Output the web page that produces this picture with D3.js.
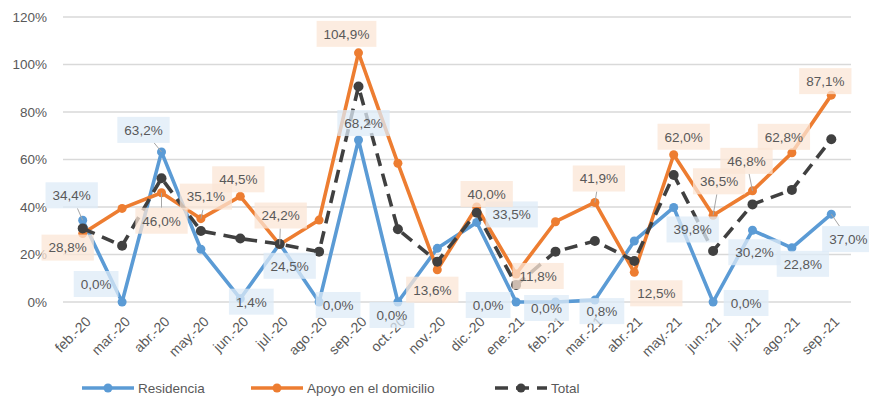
<!DOCTYPE html>
<html>
<head>
<meta charset="utf-8">
<script src="https://cdn.jsdelivr.net/npm/d3@7"></script>
<style>
  body { margin: 0; background: #fff; }
  text { font-family: "Liberation Sans", Arial, sans-serif; fill: #595959; }
</style>
</head>
<body>
<div id="chart"></div>
<script>
var width = 869,
  height = 397;

// data
var months = ['feb.-20', 'mar.-20', 'abr.-20', 'may.-20', 'jun.-20', 'jul.-20', 'ago.-20', 'sep.-20',
  'oct.-20', 'nov.-20', 'dic.-20', 'ene.-21', 'feb.-21', 'mar.-21', 'abr.-21', 'may.-21',
  'jun.-21', 'jul.-21', 'ago.-21', 'sep.-21'];
var residencia = [34.4, 0.0, 63.2, 22.2, 1.4, 24.5, 0.0, 68.2, 0.0, 22.6, 33.5, 0.0, 0.0, 0.8, 25.7, 39.8, 0.0, 30.2, 22.8, 37.0];
var apoyo = [28.8, 39.4, 46.0, 35.1, 44.5, 24.2, 34.5, 104.9, 58.4, 13.6, 40.0, 11.8, 33.8, 41.9, 12.5, 62.0, 36.5, 46.8, 62.8, 87.1];
var total = [31.0, 23.7, 52.1, 29.9, 26.7, 24.4, 21.2, 90.7, 30.6, 17.0, 37.6, 7.2, 21.2, 25.7, 17.3, 53.5, 21.5, 41.1, 47.2, 68.5];
var yTicks = [0, 20, 40, 60, 80, 100, 120];
var seriesNames = ['Residencia', 'Apoyo en el domicilio', 'Total'];

// label placement: offset from the point [dx, dy, callout?], null = no label
var resLabels = [[-11, -25, 1], [-26, -18], [-18, -22, 1], null, [11, 3], [10, 22], [19, 3], [5, -17],
  [-6, 13], null, [35, -8], [-28, 3], [-9, 6], [7, 11], null, [19, 22], [33, 1], [2, 22], [11, 16], [17, 25, 1]];
var apoLabels = [[-15, 14], null, [0, 28, 1], [5, -22, 1], [-2, -17], [1, -29, 1], null, [-12, -19],
  null, [-5, 20], [10, -13], [22, 2], null, [4, -24, 1], [22, 21], [10, -18], [6, -34, 1], [-6, -30, 1], [-8, -16], [-6, -14]];

var svg = d3.select('#chart').append('svg')
  .attr('width', width)
  .attr('height', height);

var x = d3.scalePoint()
  .domain(months)
  .range([63, 851])
  .padding(0.5);

var y = d3.scaleLinear()
  .domain([0, 120])
  .range([302, 17]);

// gridlines
svg.append('g')
  .selectAll('line')
  .data(yTicks)
  .enter().append('line')
  .attr('x1', 63)
  .attr('x2', 851)
  .attr('y1', function(d) { return y(d); })
  .attr('y2', function(d) { return y(d); })
  .attr('stroke', '#d9d9d9')
  .attr('stroke-width', 1.3);

var yAxis = svg.append('g')
  .attr('transform', 'translate(50,0)')
  .call(d3.axisLeft(y).tickValues(yTicks).tickSize(0).tickPadding(3).tickFormat(function(d) { return d + '%'; }));
yAxis.select('.domain').remove();
yAxis.selectAll('text').style('font-size', '13.5px').attr('fill', '#595959');

var xAxis = svg.append('g')
  .attr('transform', 'translate(0,302)')
  .call(d3.axisBottom(x).tickSize(0));
xAxis.select('.domain').remove();
xAxis.selectAll('text')
  .style('font-size', '14px')
  .attr('fill', '#595959')
  .attr('text-anchor', 'end')
  .attr('transform', 'translate(5,17) rotate(-45)')
  .attr('dy', '0.35em')
  .attr('y', 0);

var line = d3.line()
  .x(function(d, i) { return x(months[i]); })
  .y(function(d) { return y(d); });

function drawSeries(data, color, dash, r) {
  svg.append('path')
    .datum(data)
    .attr('fill', 'none')
    .attr('stroke', color)
    .attr('stroke-width', 3.6)
    .attr('stroke-linejoin', 'round')
    .attr('stroke-dasharray', dash)
    .attr('d', line);
  svg.append('g')
    .selectAll('circle')
    .data(data)
    .enter().append('circle')
    .attr('cx', function(d, i) { return x(months[i]); })
    .attr('cy', function(d) { return y(d); })
    .attr('r', r)
    .attr('fill', color);
}

drawSeries(residencia, '#5b9bd5', null, 4.5);
drawSeries(apoyo, '#ed7d31', null, 4.5);
drawSeries(total, '#404040', '13,8', 5);

function fmt(v) {
  return v.toFixed(1).replace('.', ',') + '%';
}

function drawLabels(data, place, bg) {
  var g = svg.append('g');
  data.forEach(function(v, i) {
    var p = place[i];
    if (!p) return;
    var px = x(months[i]), py = y(v);
    var cx = px + p[0], cy = py + p[1];
    var t = g.append('text')
      .attr('x', cx)
      .attr('y', cy)
      .attr('dy', '0.36em')
      .attr('text-anchor', 'middle')
      .style('font-size', '13.5px')
      .attr('fill', '#404040')
      .text(fmt(v));
    var w = t.node().getComputedTextLength() + 14,
      h = 26;
    if (p[2]) {
      // callout from box edge to the point
      var dx = px - cx, dy = py - cy;
      var s = Math.min(Math.abs((w / 2) / (dx || 1e-6)), Math.abs((h / 2) / (dy || 1e-6)));
      g.insert('line', 'text')
        .attr('x1', cx + dx * Math.min(s, 1))
        .attr('y1', cy + dy * Math.min(s, 1))
        .attr('x2', px)
        .attr('y2', py)
        .attr('stroke', '#a6a6a6')
        .attr('stroke-width', 1);
    }
    g.insert('rect', 'text')
      .attr('x', cx - w / 2)
      .attr('y', cy - h / 2)
      .attr('width', w)
      .attr('height', h)
      .attr('fill', bg)
      .attr('fill-opacity', 0.75);
  });
}

drawLabels(residencia, resLabels, '#deebf7');
drawLabels(apoyo, apoLabels, '#fbe5d6');

// legend
var legend = svg.append('g').attr('transform', 'translate(0,388)');
var legendX = [82, 251, 495];
var legendColors = ['#5b9bd5', '#ed7d31', '#404040'];
seriesNames.forEach(function(name, i) {
  var lx = legendX[i];
  legend.append('line')
    .attr('x1', lx).attr('x2', lx + 52)
    .attr('stroke', legendColors[i])
    .attr('stroke-width', 3.6)
    .attr('stroke-dasharray', i == 2 ? '13,8' : null);
  legend.append('circle')
    .attr('cx', lx + 26)
    .attr('r', 4.5)
    .attr('fill', legendColors[i]);
  legend.append('text')
    .attr('x', lx + 56)
    .attr('dy', '0.35em')
    .style('font-size', '13.5px')
    .attr('fill', '#595959')
    .text(name);
});
</script>
</body>
</html>
